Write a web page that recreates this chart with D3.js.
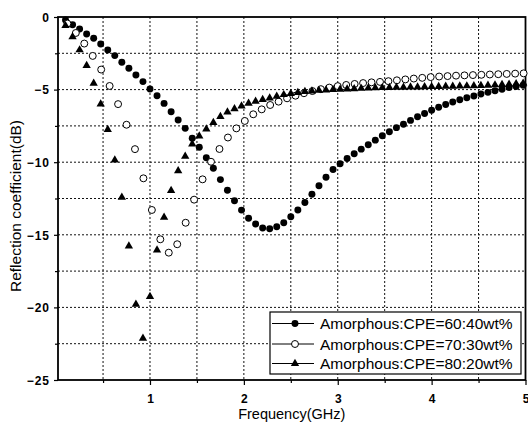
<!DOCTYPE html>
<html><head><meta charset="utf-8">
<script src="https://cdn.jsdelivr.net/npm/d3@7"></script>
<style>body{margin:0;background:#fff}svg{display:block}text{font-family:"Liberation Sans",Arial,sans-serif;fill:#000}</style>
</head><body><svg id="c" width="528" height="426"></svg>
<script>
// shared frequency grid for 60:40 and 80:20 series (GHz)
const freqAC = [0.100,0.175,0.250,0.325,0.400,0.475,0.550,0.625,0.700,0.775,
  0.850,0.925,1.000,1.075,1.150,1.225,1.300,1.375,1.450,1.525,
  1.600,1.675,1.750,1.825,1.900,1.975,2.050,2.125,2.200,2.275,
  2.350,2.425,2.500,2.575,2.650,2.725,2.800,2.875,2.950,3.025,
  3.100,3.175,3.250,3.325,3.400,3.475,3.550,3.625,3.700,3.775,
  3.850,3.925,4.000,4.075,4.150,4.225,4.300,4.375,4.450,4.525,
  4.600,4.675,4.750,4.825,4.900,4.975];
// frequency grid for 70:30 series (GHz)
const freqB = [0.12,0.21,0.30,0.39,0.48,0.57,0.66,0.75,0.84,0.93,
  1.02,1.11,1.20,1.29,1.38,1.47,1.56,1.65,1.74,1.83,
  1.92,2.01,2.10,2.19,2.28,2.37,2.46,2.55,2.64,2.73,
  2.82,2.91,3.00,3.09,3.18,3.27,3.36,3.45,3.54,3.63,
  3.72,3.81,3.90,3.99,4.08,4.17,4.26,4.35,4.44,4.53,
  4.62,4.71,4.80,4.89,4.98];
// Amorphous:CPE=60:40wt% (dB)
const rl6040 = [-0.21,-0.53,-0.83,-1.17,-1.47,-1.86,-2.27,-2.66,-3.12,-3.53,
  -3.99,-4.45,-4.96,-5.42,-5.95,-6.52,-7.09,-7.67,-8.35,-8.97,
  -9.70,-10.42,-11.20,-11.93,-12.65,-13.30,-13.86,-14.26,-14.53,-14.58,
  -14.44,-14.17,-13.75,-13.29,-12.78,-12.21,-11.62,-11.04,-10.50,-10.10,
  -9.75,-9.42,-9.10,-8.80,-8.48,-8.18,-7.90,-7.62,-7.38,-7.12,
  -6.87,-6.64,-6.42,-6.22,-6.03,-5.86,-5.70,-5.56,-5.44,-5.31,
  -5.19,-5.08,-4.97,-4.86,-4.78,-4.70];
// Amorphous:CPE=70:30wt% (dB)
const rl7030 = [-0.45,-1.10,-1.83,-2.68,-3.62,-4.75,-6.00,-7.42,-9.10,-11.11,
  -13.29,-15.31,-16.23,-15.65,-14.17,-12.58,-11.18,-9.97,-9.09,-8.30,
  -7.67,-7.16,-6.70,-6.36,-6.06,-5.83,-5.60,-5.42,-5.25,-5.10,
  -4.97,-4.86,-4.76,-4.68,-4.61,-4.55,-4.50,-4.47,-4.42,-4.36,
  -4.30,-4.24,-4.19,-4.14,-4.10,-4.07,-4.04,-4.02,-4.00,-3.98,
  -3.96,-3.94,-3.92,-3.90,-3.88];
// Amorphous:CPE=80:20wt% (dB)
const rl8020 = [-0.60,-1.36,-2.27,-3.35,-4.57,-5.99,-7.75,-9.85,-12.42,-15.77,
  -19.79,-22.13,-19.26,-16.05,-13.80,-11.95,-10.60,-9.60,-8.75,-8.20,
  -7.72,-7.27,-6.86,-6.55,-6.32,-6.13,-5.94,-5.81,-5.69,-5.58,
  -5.46,-5.35,-5.27,-5.20,-5.14,-5.10,-5.06,-5.03,-5.00,-4.98,
  -4.96,-4.94,-4.92,-4.90,-4.88,-4.87,-4.86,-4.85,-4.84,-4.83,
  -4.82,-4.81,-4.80,-4.79,-4.78,-4.77,-4.76,-4.75,-4.74,-4.72,
  -4.70,-4.68,-4.66,-4.63,-4.60,-4.56];
const seriesNames = ["Amorphous:CPE=60:40wt%","Amorphous:CPE=70:30wt%","Amorphous:CPE=80:20wt%"];
const xTicks = [1,2,3,4,5];
const xGrid = [0.5,1,1.5,2,2.5,3,3.5,4,4.5];
const yTicks = [0,-5,-10,-15,-20,-25];
const yGrid = [-2.5,-5,-7.5,-10,-12.5,-15,-17.5,-20,-22.5];
const yMinor = [-2.5,-7.5,-12.5,-17.5,-22.5];
const xMinor = [0.5,1.5,2.5,3.5,4.5];

const svg = d3.select("#c");
const L = 58, R = 525.5, T = 17, B = 380;
const x = d3.scaleLinear().domain([0.02,5]).range([L,R]);
const y = d3.scaleLinear().domain([-25,0]).range([B,T]);

// grid
const g = svg.append("g");
g.selectAll("line.v").data(xGrid).join("line")
  .attr("x1",d=>x(d)).attr("x2",d=>x(d)).attr("y1",T).attr("y2",B)
  .attr("stroke","#111").attr("stroke-width",1).attr("stroke-dasharray","2,2");
g.selectAll("line.h").data(yGrid).join("line")
  .attr("x1",L).attr("x2",R).attr("y1",d=>y(d)).attr("y2",d=>y(d))
  .attr("stroke","#111").attr("stroke-width",1).attr("stroke-dasharray","2,2");

// axes
const xa = svg.append("g").attr("transform",`translate(0,${B})`)
  .call(d3.axisBottom(x).tickValues(xTicks).tickSize(5).tickFormat(d3.format("d")));
svg.append("g").attr("transform",`translate(0,${B})`)
  .call(d3.axisBottom(x).tickValues(xMinor).tickSize(3).tickFormat(""))
  .call(s=>s.select(".domain").remove());
const ya = svg.append("g").attr("transform",`translate(${L},0)`)
  .call(d3.axisLeft(y).tickValues(yTicks).tickSize(4).tickFormat(d3.format("d")));
svg.append("g").attr("transform",`translate(${L},0)`)
  .call(d3.axisLeft(y).tickValues(yMinor).tickSize(3).tickFormat(""))
  .call(s=>s.select(".domain").remove());
svg.selectAll(".tick line").attr("stroke","#000").attr("stroke-width",1.2);
svg.selectAll(".domain").remove();
xa.selectAll("text").attr("font-size","12px").attr("font-weight","bold")
  .attr("font-family","Liberation Sans, Arial").attr("dy","0").attr("y",22.5);
ya.selectAll("text").attr("font-size","12px").attr("font-weight","bold")
  .attr("font-family","Liberation Sans, Arial").attr("x",-8).attr("dy","0.35em")
  .attr("letter-spacing","1px");

// frame
svg.append("rect").attr("x",L).attr("y",T).attr("width",R-L).attr("height",B-T)
  .attr("fill","none").attr("stroke","#000").attr("stroke-width",1.8);

// data
const sym = {
  circle: d3.symbol().type(d3.symbolCircle).size(38),
  tri: d3.symbol().type(d3.symbolTriangle).size(30)
};
const dA = freqAC.map((f,i)=>[f,rl6040[i]]);
const dB = freqB.map((f,i)=>[f,rl7030[i]]);
const dC = freqAC.map((f,i)=>[f,rl8020[i]]);
svg.append("g").selectAll("path").data(dA).join("path")
  .attr("transform",d=>`translate(${x(d[0])},${y(d[1])})`).attr("d",sym.circle()).attr("fill","#000");
svg.append("g").selectAll("path").data(dB).join("path")
  .attr("transform",d=>`translate(${x(d[0])},${y(d[1])})`).attr("d",sym.circle())
  .attr("fill","#fff").attr("stroke","#000").attr("stroke-width",1);
svg.append("g").selectAll("path").data(dC).join("path")
  .attr("transform",d=>`translate(${x(d[0])},${y(d[1])})`).attr("d",sym.tri()).attr("fill","#000");

// legend
const lg = svg.append("g");
lg.append("rect").attr("x",270).attr("y",312).attr("width",251).attr("height",62)
  .attr("fill","#fff").attr("stroke","#000").attr("stroke-width",1.2);
const rows = [323.5,344,363.5];
const styles = [
  {d:sym.circle(), fill:"#000", stroke:"none"},
  {d:sym.circle(), fill:"#fff", stroke:"#000"},
  {d:sym.tri(), fill:"#000", stroke:"none"}];
seriesNames.forEach((n,i)=>{
  lg.append("line").attr("x1",272).attr("x2",314).attr("y1",rows[i]).attr("y2",rows[i])
    .attr("stroke","#000").attr("stroke-width",1);
  lg.append("path").attr("transform",`translate(295,${rows[i]})`).attr("d",styles[i].d)
    .attr("fill",styles[i].fill).attr("stroke",styles[i].stroke);
  lg.append("text").attr("x",320).attr("y",rows[i]+5.5).attr("font-size","15.5px").text(n);
});

// axis titles
svg.append("text").attr("x",(L+R)/2).attr("y",419).attr("text-anchor","middle")
  .attr("font-size","14.5px").text("Frequency(GHz)");
svg.append("text").attr("transform","translate(21,206) rotate(-90)").attr("text-anchor","middle")
  .attr("font-size","15.5px").text("Reflection coefficient(dB)");
</script></body></html>
